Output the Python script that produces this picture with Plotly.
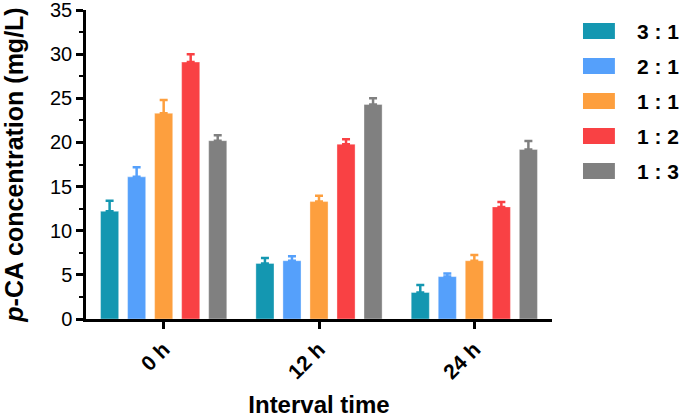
import plotly.graph_objects as go

categories = ["0 h", "12 h", "24 h"]
series_names = ["3 : 1", "2 : 1", "1 : 1", "1 : 2", "1 : 3"]
values_31 = [12.2, 6.3, 3.0]
values_21 = [16.1, 6.6, 4.8]
values_11 = [23.3, 13.3, 6.6]
values_12 = [29.1, 19.8, 12.7]
values_13 = [20.2, 24.3, 19.2]
err_31 = [1.2, 0.6, 0.85]
err_21 = [1.1, 0.5, 0.35]
err_11 = [1.5, 0.65, 0.65]
err_12 = [0.9, 0.55, 0.55]
err_13 = [0.6, 0.7, 0.95]
colors = ["#1497B1", "#55A0FB", "#FD9F3E", "#F94144", "#808080"]
y_ticks = [0, 5, 10, 15, 20, 25, 30, 35]

all_values = [values_31, values_21, values_11, values_12, values_13]
all_errs = [err_31, err_21, err_11, err_12, err_13]

FONT = "Arial, Liberation Sans, sans-serif"

fig = go.Figure()
for name, vals, errs, col in zip(series_names, all_values, all_errs, colors):
    fig.add_trace(go.Bar(
        x=categories, y=vals, name=name,
        marker=dict(color=col, line=dict(color="rgba(255,255,255,0.35)", width=1)),
        error_y=dict(type="data", array=errs, arrayminus=[0] * len(errs),
                     symmetric=False, color=col, thickness=2.5, width=4),
        showlegend=False,
    ))

# custom legend built from series names
for i, (name, col) in enumerate(zip(series_names, colors)):
    yc = 0.932 - i * 0.1133
    fig.add_shape(type="rect", xref="paper", yref="paper",
                  x0=1.0665, x1=1.135, y0=yc - 0.026, y1=yc + 0.026,
                  fillcolor=col, line=dict(width=0))
    fig.add_annotation(xref="paper", yref="paper", x=1.178, y=yc,
                       text=f"<b>{name}</b>", showarrow=False,
                       xanchor="left", yanchor="middle",
                       font=dict(size=21, color="black", family=FONT))

fig.update_layout(
    width=685, height=418,
    margin=dict(l=86, r=133, t=10, b=99),
    plot_bgcolor="white", paper_bgcolor="white",
    barmode="group", bargap=0.13, bargroupgap=0.33,
    font=dict(family=FONT, color="black"),
)
fig.update_xaxes(
    range=[-0.5, 2.5], showline=True, linecolor="black", linewidth=2.5,
    ticks="outside", ticklen=7, tickwidth=2.5, tickcolor="black",
    tickangle=-45, tickfont=dict(size=21, family=FONT),
    tickprefix="<b>", ticksuffix="</b>",
    title=dict(text="<b>Interval time</b>", font=dict(size=24), standoff=18),
    showgrid=False, zeroline=False, automargin=False, ticklabeloverflow="allow",
)
fig.update_yaxes(
    range=[0, 35], tickvals=y_ticks, showline=True, linecolor="black", linewidth=2.5,
    ticks="outside", ticklen=7, tickwidth=2.5, tickcolor="black",
    tickfont=dict(size=20, family=FONT), tickprefix="<b>", ticksuffix="</b>",
    minor=dict(dtick=2.5, ticks="outside", ticklen=4, tickwidth=2, tickcolor="black"),
    title=dict(text="<b><i>p</i>-CA concentration (mg/L)</b>", font=dict(size=25), standoff=22),
    showgrid=False, zeroline=False, automargin=False, ticklabeloverflow="allow",
)

fig.write_html("out.html", config={"displayModeBar": False},
               post_script="document.body.style.margin='0';")
